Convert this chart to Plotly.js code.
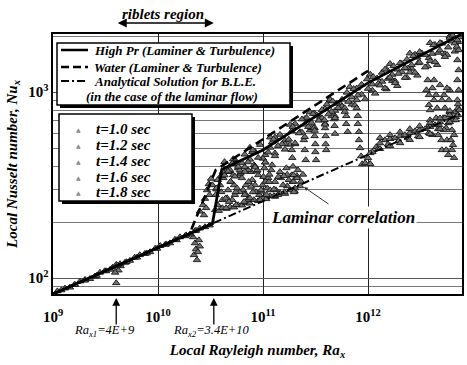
<!DOCTYPE html>
<html><head><meta charset="utf-8">
<script src="https://cdn.plot.ly/plotly-3.0.1.min.js"></script>
<style>html,body{margin:0;padding:0;background:#fff}#chart{width:467px;height:365px}</style>
</head><body><div id="chart"></div>
<script>
// ---------- data ----------
const seriesNames = ['t=1.0 sec', 't=1.2 sec', 't=1.4 sec', 't=1.6 sec', 't=1.8 sec'];
const lineNames = ['High Pr (Laminer & Turbulence)', 'Water (Laminer & Turbulence)', 'Analytical Solution for B.L.E.'];
const lineNote = '(in the case of the laminar flow)';
const raX1 = 4e9, raX2 = 3.4e10;

const highPrRa = [1e9, 3.3e10, 4.05e10, 1.0e11, 1.0e12, 7.8e12];
const highPrNu = [82, 196, 383, 488, 1120, 2050];
const waterRa = [1e9, 2.0e10, 3.55e10, 1.0e12];
const waterNu = [82, 173, 381, 1300];
const bleRa = [1e9, 7.8e12];
const bleNu = [82, 769];

const t10Ra = [1.3e9,1.62e9,2.02e9,2.5e9,3.1e9,4.85e9,6.0e9,7.5e9,9.4e9,1.17e10,1.45e10,1.81e10,2.25e10,
  3.7e9,4.0e9,4.2e9,3.9e9,4.4e9,4.0e9,
  2.16e10,2.25e10,2.3e10,2.2e10,2.35e10,2.45e10,2.4e10,2.5e10,
  2.5e10,2.68e10,2.8e10,2.93e10,3.05e10,3.2e10,2.74e10,2.87e10,3.1e10,3.3e10,
  3.5e10,3.8e10,4.1e10,4.5e10,4.85e10,5.3e10,5.8e10,6.3e10,6.9e10,7.5e10,8.2e10,9.0e10,9.9e10,1.07e11,1.17e11,1.3e11,1.45e11,1.62e11,1.81e11,2.0e11,2.25e11,
  3.7e10,4.0e10,4.3e10,4.55e10,4.95e10,5.4e10,5.9e10,6.45e10,7.05e10,7.7e10,8.4e10,9.2e10,1.01e11,1.1e11,1.2e11,1.33e11,1.48e11,1.7e11,1.92e11,2.1e11];
const t10Nu = [88,92,98,102,109,121,129,135,144,151,161,168,179,
  114,118,110,107,116,94,
  166,154,143,133,125,160,138,148,
  228,247,267,297,320,342,218,238,280,316,
  232,230,238,236,241,240,247,246,253,252,263,260,269,266,276,274,287,284,297,293,312,
  337,290,381,269,329,280,354,297,263,372,316,280,350,304,381,297,345,312,329,354];

const t12Ra = [1.1e9,1.81e9,2.8e9,4.35e9,6.7e9,1.05e10,1.62e10,2.5e10,
  3.55e10,3.7e10,3.9e10,4.1e10,4.2e10,4.45e10,4.65e10,4.85e10,5.1e10,5.3e10,5.55e10,5.8e10,6.0e10,6.3e10,6.6e10,6.9e10,7.2e10,7.5e10,7.9e10,8.2e10,8.6e10,9.0e10,9.4e10,9.9e10,1.03e11,1.08e11,1.12e11,1.17e11,1.22e11,1.3e11,1.39e11,1.45e11,1.55e11,1.67e11,1.76e11,1.88e11,2.02e11,2.15e11,
  3.6e10,4.0e10,4.4e10,4.9e10,5.5e10,6.1e10,6.8e10,7.7e10,8.7e10,9.6e10,1.06e11,1.15e11,1.27e11,1.4e11,1.6e11,1.7e11,1.95e11,2.1e11,2.3e11,2.4e11,
  3.6e10,4.15e10,4.75e10,5.2e10,5.65e10,6.15e10,6.7e10,7.3e10,8.0e10,8.8e10,9.6e10,1.14e11,1.27e11,1.58e11,1.97e11,
  4.3e10,4.85e10,5.4e10,6.0e10,6.7e10,7.5e10,8.4e10,9.4e10,1.05e11,1.17e11,1.30e11,1.45e11,1.62e11,1.81e11,2.02e11,2.25e11,2.5e11,2.8e11,3.1e11,3.5e11,3.9e11,4.35e11,4.85e11,5.4e11,
  4.3e10,5.4e10,6.7e10,8.4e10,1.05e11,1.30e11,1.62e11,2.02e11,2.5e11,3.1e11,3.9e11,4.85e11,
  7.5e10,1.17e11,1.81e11,2.8e11,4.35e11,6.7e11,1.05e12,1.62e12,2.5e12,3.9e12,6.0e12];
const t12Nu = [85,96,107,119,133,149,166,185,
  280,247,316,263,345,238,297,372,263,316,247,390,290,345,257,316,381,269,337,405,290,358,263,316,390,280,345,297,405,329,280,372,316,390,337,358,304,381,
  300,355,268,330,290,365,283,310,375,292,330,360,300,350,290,360,330,345,330,360,
  304,372,257,358,304,372,280,329,290,381,297,329,276,354,290,
  421,381,411,380,462,434,399,521,459,503,469,590,549,522,676,610,669,623,768,729,677,896,794,870,
  357,432,395,478,419,571,526,525,717,642,813,742,
  503,571,668,779,913,1067,1244,1418,1615,1838,1998];

const t14Ra = [1.45e9,2.25e9,3.5e9,5.4e9,8.4e9,1.3e10,2.02e10,3.1e10,
  2.35e11,2.6e11,2.9e11,3.25e11,3.65e11,4.05e11,4.5e11,5.05e11,5.65e11,6.3e11,7.0e11,7.8e11,8.7e11,9.8e11,1.1e12,1.22e12,1.36e12,1.5e12,1.7e12,1.9e12,2.1e12,2.35e12,2.6e12,2.95e12,
  5.1e10,6.3e10,7.9e10,1.0e11,1.22e11,1.52e11,1.88e11,2.35e11,2.9e11,3.65e11,4.5e11,5.65e11,7.0e11,8.7e11,1.1e12,1.36e12,1.7e12,2.1e12,2.6e12,3.25e12,4.1e12,5.05e12,6.3e12,
  4.65e10,5.8e10,7.2e10,9.0e10,1.12e11,1.39e11,1.76e11,2.2e11,2.7e11,3.4e11,4.2e11,5.2e11,6.5e11,8.0e11,1.0e12,1.25e12,1.55e12,1.95e12,2.4e12,3.0e12,3.8e12,4.65e12,5.8e12,7.2e12,
  1.88e11,1.9e11,1.93e11,1.95e11,
  2.45e11,2.5e11,2.55e11,
  3.05e11,3.1e11,3.15e11,3.15e11,3.2e11,
  3.85e11,3.9e11,3.95e11,3.95e11,4.0e11,
  4.75e11,4.8e11,4.85e11,
  6.0e11,6.2e11,6.2e11,6.4e11];
const t14Nu = [89,99,111,124,138,154,172,192,
  607,728,641,750,724,859,742,867,838,994,858,1047,970,1173,1020,1185,1138,1327,1149,1323,1282,1498,1338,1535,
  414,415,476,439,538,525,617,714,684,802,784,911,937,1098,1100,1273,1241,1422,1398,1618,1608,1825,1872,
  375,397,420,444,474,514,556,601,650,703,760,822,888,961,1042,1109,1181,1256,1339,1432,1525,1628,1739,1860,
  488,443,398,358,
  552,488,431,
  640,580,525,476,431,
  707,640,580,525,488,
  715,658,597,
  820,744,674,611];

const t16Ra = [1.2e9,2.0e9,3.2e9,5.0e9,7.8e9,1.2e10,1.85e10,2.8e10,
  1.3e12,1.45e12,1.62e12,1.81e12,2.02e12,2.25e12,2.5e12,2.8e12,3.1e12,3.5e12,3.9e12,4.35e12,4.85e12,5.4e12,6.0e12,6.7e12,7.5e12,3.1e12,4.85e12,
  1.5e12,1.9e12,2.35e12,2.95e12,3.7e12,4.55e12,5.65e12,7.0e12,
  5.2e10,8.0e10,1.26e11,1.92e11,3.0e11,4.6e11,7.3e11,1.12e12,1.75e12,2.7e12,4.2e12,6.4e12,
  3.7e12,3.8e12,3.9e12,3.85e12,4.1e12,4.25e12,4.45e12,4.65e12,4.85e12,5.05e12,5.3e12,5.4e12,5.55e12,5.65e12,5.8e12,6.0e12,6.15e12,6.3e12,6.45e12,6.6e12,
  3.6e12,3.8e12,3.9e12,4.1e12,4.25e12,4.45e12,4.55e12,4.75e12,5.0e12,5.05e12,5.2e12,5.3e12,5.55e12,5.65e12,5.9e12,6.0e12,6.15e12,6.3e12,6.45e12,6.6e12,
  5.4e10,6.7e10,8.4e10,1.05e11,1.30e11,1.62e11,2.02e11,2.5e11,3.1e11,3.9e11,4.85e11,6.0e11,7.5e11,9.4e11,1.17e12,1.45e12,1.81e12,2.25e12,2.8e12,3.5e12,4.35e12,5.4e12,6.7e12];
const t16Nu = [86,97,109,122,136,152,170,188,
  1087,1323,1199,1146,1431,1350,1277,1592,1441,1586,1470,1795,1677,1603,1960,1830,1972,1644,1838,
  1036,1080,1195,1228,1378,1400,1586,1755,
  436,487,557,651,764,893,1040,1208,1381,1565,1790,2018,
  1160,964,800,665,1050,906,725,588,1091,488,964,820,640,552,459,1025,725,625,519,443,
  1025,852,707,588,1160,964,820,665,552,906,725,625,488,1050,906,778,552,488,707,588,
  352,373,394,419,453,491,531,574,620,669,725,784,848,916,982,1048,1119,1194,1273,1359,1450,1547,1653];

const t18Ra = [1.6e9,2.6e9,4.1e9,6.3e9,9.8e9,1.5e10,2.3e10,
  7.8e11,7.8e11,8.0e11,8.0e11,8.2e11,8.2e11,8.4e11,8.6e11,8.8e11,
  9.4e11,1.0e12,1.1e12,1.2e12,1.3e12,1.45e12,1.62e12,1.81e12,2.02e12,2.25e12,2.5e12,2.8e12,3.1e12,3.5e12,3.9e12,4.35e12,4.85e12,5.4e12,6.0e12,6.7e12,7.2e12,
  1.25e12,1.55e12,1.95e12,2.4e12,3.0e12,3.8e12,4.65e12,5.8e12,6.85e12,
  1.05e12,1.3e12,1.62e12,2.02e12,2.5e12,3.1e12,3.9e12,4.85e12,6.0e12,7.2e12,
  1.05e12,1.3e12,1.62e12,2.02e12,2.5e12,3.1e12,3.9e12,4.85e12,6.0e12,7.2e12,
  7.1e12,7.3e12,7.1e12,7.3e12,7.1e12,7.3e12,7.1e12,7.4e12,6.85e12];
const t18Nu = [92,103,117,129,144,160,180,
  906,820,744,674,611,552,500,452,410,
  415,442,476,507,531,552,560,566,580,588,603,617,625,633,650,665,689,725,753,778,820,
  495,524,545,566,580,603,633,681,735,
  411,495,514,532,553,573,596,632,690,752,
  470,567,588,609,633,656,683,723,791,861,
  1903,1682,1486,1313,1160,1025,906,800,707];

// ---------- figure ----------
const serif = 'Liberation Serif';
const bi = (size) => ({family: serif, size: size, weight: 'bold', style: 'italic', color: '#000'});
const markerStyle = {symbol: 'triangle-up', size: 6.5, color: '#727272', line: {color: '#141414', width: 0.9}};

const scatterRa = [t10Ra, t12Ra, t14Ra, t16Ra, t18Ra];
const scatterNu = [t10Nu, t12Nu, t14Nu, t16Nu, t18Nu];
const traces = seriesNames.map((n, i) => ({
  type: 'scatter', mode: 'markers', name: n, x: scatterRa[i], y: scatterNu[i],
  marker: markerStyle, showlegend: false, hoverinfo: 'skip'
}));
traces.push({type: 'scatter', mode: 'lines', name: lineNames[2], x: bleRa, y: bleNu,
  line: {color: '#000', width: 2, dash: '8px,3px,2px,3px'}, showlegend: false});
traces.push({type: 'scatter', mode: 'lines', name: lineNames[1], x: waterRa, y: waterNu,
  line: {color: '#000', width: 2.6, dash: '9px,5px'}, showlegend: false});
traces.push({type: 'scatter', mode: 'lines', name: lineNames[0], x: highPrRa, y: highPrNu,
  line: {color: '#000', width: 2.8}, showlegend: false});

// pixel helpers for legend boxes (plot area: x 53..462, y 34..294)
const px = (p) => (p - 53) / 409;
const py = (p) => (294 - p) / 260;

const shapes = [
  {type: 'line', xref: 'x', yref: 'paper', x0: Math.log10(raX1), x1: Math.log10(raX1), y0: 0, y1: 1,
   line: {color: '#111', width: 1.2, dash: '4px,3px'}, layer: 'above'},
  {type: 'line', xref: 'x', yref: 'paper', x0: Math.log10(raX2), x1: Math.log10(raX2), y0: 0, y1: 1,
   line: {color: '#111', width: 1.2, dash: '4px,3px'}, layer: 'above'},
  {type: 'rect', xref: 'paper', yref: 'paper', x0: px(60), x1: px(293), y0: py(108), y1: py(46),
   fillcolor: '#000', line: {width: 0}, layer: 'above'},
  {type: 'rect', xref: 'paper', yref: 'paper', x0: px(57), x1: px(290), y0: py(105), y1: py(43),
   fillcolor: '#fff', line: {color: '#000', width: 1.5}, layer: 'above'},
  {type: 'rect', xref: 'paper', yref: 'paper', x0: px(62), x1: px(195), y0: py(204), y1: py(117),
   fillcolor: '#000', line: {width: 0}, layer: 'above'},
  {type: 'rect', xref: 'paper', yref: 'paper', x0: px(59), x1: px(192), y0: py(201), y1: py(114),
   fillcolor: '#fff', line: {color: '#000', width: 1.5}, layer: 'above'},
  {type: 'line', xref: 'paper', yref: 'paper', x0: px(61), x1: px(88), y0: py(50), y1: py(50),
   line: {color: '#000', width: 2.5}, layer: 'above'},
  {type: 'line', xref: 'paper', yref: 'paper', x0: px(61), x1: px(88), y0: py(67), y1: py(67),
   line: {color: '#000', width: 2.5, dash: '8px,4px'}, layer: 'above'},
  {type: 'line', xref: 'paper', yref: 'paper', x0: px(61), x1: px(88), y0: py(81), y1: py(81),
   line: {color: '#000', width: 2, dash: '8px,3px,2px,3px'}, layer: 'above'}
];

const annotations = [];
const lineRows = [50, 67, 81];
lineNames.forEach((n, i) => annotations.push({xref: 'paper', yref: 'paper', x: px(92), y: py(lineRows[i]),
  xanchor: 'left', yanchor: 'middle', text: n, showarrow: false, font: bi(13)}));
annotations.push({xref: 'paper', yref: 'paper', x: px(84), y: py(96), xanchor: 'left', yanchor: 'middle',
  text: lineNote, showarrow: false, font: bi(13)});
const markRows = [129, 145, 161, 177, 192];
seriesNames.forEach((n, i) => {
  annotations.push({xref: 'paper', yref: 'paper', x: px(78), y: py(markRows[i]), xanchor: 'center', yanchor: 'middle',
    text: '▲', showarrow: false, font: {family: 'DejaVu Sans', size: 6, color: '#8a8a8a'}});
  annotations.push({xref: 'paper', yref: 'paper', x: px(94), y: py(markRows[i]), xanchor: 'left', yanchor: 'middle',
    text: n, showarrow: false, font: bi(15)});
});
annotations.push({xref: 'x', yref: 'paper', x: 10.048, y: py(14), text: 'riblets region', showarrow: false,
  font: bi(15), xanchor: 'center', yanchor: 'middle'});
annotations.push({xref: 'x', yref: 'paper', x: Math.log10(raX2), y: py(23), axref: 'x', ax: Math.log10(raX1),
  ayref: 'pixel', ay: 0, text: '', showarrow: true, arrowside: 'end+start', arrowhead: 2, arrowsize: 1.2,
  arrowwidth: 1.5, arrowcolor: '#000'});
[raX1, raX2].forEach(r => annotations.push({xref: 'x', yref: 'paper', x: Math.log10(r), y: py(298),
  ax: 0, ay: 28, text: '', showarrow: true, arrowhead: 2, arrowsize: 1.2, arrowwidth: 1.3, arrowcolor: '#000'}));
annotations.push({xref: 'x', yref: 'paper', x: 9.495, y: py(331), xanchor: 'center', yanchor: 'middle',
  text: 'Ra<sub>x1</sub>=4E+9', showarrow: false, font: {family: serif, size: 12.5, style: 'italic', color: '#000'}});
annotations.push({xref: 'x', yref: 'paper', x: 10.514, y: py(331), xanchor: 'center', yanchor: 'middle',
  text: 'Ra<sub>x2</sub>=3.4E+10', showarrow: false, font: {family: serif, size: 12.5, style: 'italic', color: '#000'}});
annotations.push({xref: 'x', yref: 'y', x: 11.39, y: 2.489, ax: 26, ay: 18, text: '', showarrow: true,
  arrowhead: 2, arrowsize: 0.8, arrowwidth: 1, arrowcolor: '#333'});
annotations.push({xref: 'x', yref: 'y', x: 11.762, y: 2.323, xanchor: 'center', yanchor: 'middle',
  text: 'Laminar correlation', showarrow: false, bgcolor: '#fff', font: bi(17)});

const layout = {
  width: 467, height: 365,
  margin: {l: 53, r: 5, t: 34, b: 71},
  paper_bgcolor: '#fff', plot_bgcolor: '#fff',
  showlegend: false,
  xaxis: {
    type: 'log', range: [9, 12.895], dtick: 1, exponentformat: 'power',
    showgrid: true, gridcolor: '#222', gridwidth: 1, zeroline: false,
    showline: true, linecolor: '#000', linewidth: 2, mirror: true, ticks: '', ticklabelstandoff: 9,
    tickfont: {family: serif, size: 12, weight: 'bold', color: '#000'},
    title: {text: 'Local Rayleigh number, Ra<sub>x</sub>', font: bi(15), standoff: 20}
  },
  yaxis: {
    type: 'log', range: [1.914, 3.312], dtick: 1, exponentformat: 'power',
    showgrid: true, gridcolor: '#555', gridwidth: 1, zeroline: false,
    showline: true, linecolor: '#000', linewidth: 2, mirror: true, ticks: '',
    minor: {dtick: 'D1', showgrid: true, gridcolor: '#777', gridwidth: 1, ticks: ''},
    tickfont: {family: serif, size: 12, weight: 'bold', color: '#000'},
    title: {text: 'Local Nusselt number, Nu<sub>x</sub>', font: bi(15), standoff: 7}
  },
  shapes: shapes,
  annotations: annotations
};

Plotly.newPlot('chart', traces, layout, {displayModeBar: false, staticPlot: true});
</script></body></html>
